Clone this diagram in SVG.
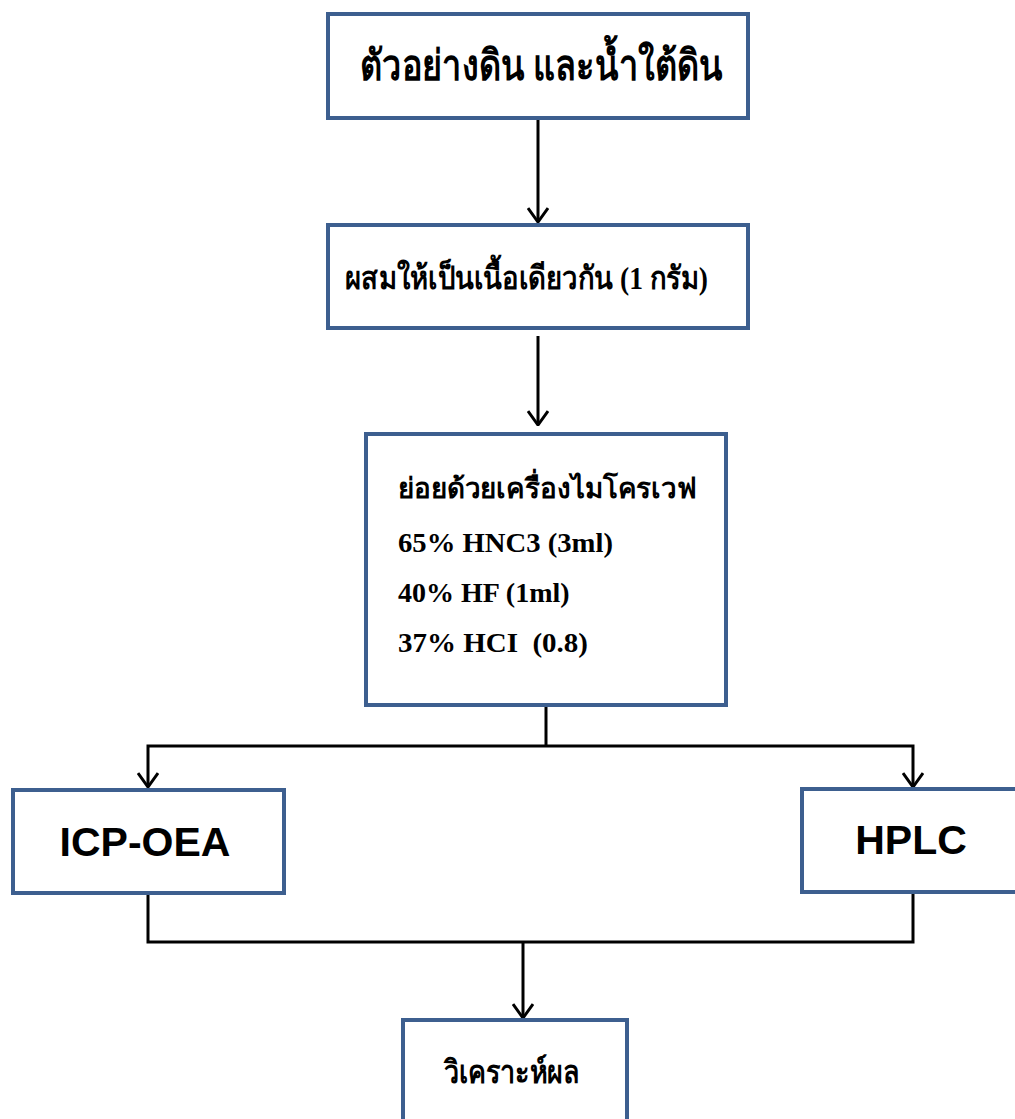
<svg xmlns="http://www.w3.org/2000/svg" width="1015" height="1119" viewBox="0 0 1015 1119">
  <defs>
    <!-- open V arrowhead, drawn along +x so orient="auto" follows the line -->
    <marker id="arrow" viewBox="0 0 16 22" refX="15" refY="11" markerWidth="16" markerHeight="22" markerUnits="userSpaceOnUse" orient="auto-start-reverse">
      <path d="M1 1 L15 11 L1 21" fill="none" stroke="#000" stroke-width="3" stroke-linejoin="miter"/>
    </marker>
    <style>
      .box { fill: #fff; stroke: #3d5f8f; stroke-width: 4; }
      .th { font-family: "Liberation Serif", "Noto Sans", serif; font-weight: bold; fill: #000; white-space: pre; }
      .sans { font-family: "Liberation Sans", Arial, sans-serif; font-weight: bold; fill: #000; }
      .wire { fill: none; stroke: #000; stroke-width: 3; }
    </style>
  </defs>
  <rect width="1015" height="1119" fill="#fff"/>

  <g id="connectors">
    <path class="wire" d="M538 118 V222" marker-end="url(#arrow)"/>
    <path class="wire" d="M538 336 V425" marker-end="url(#arrow)"/>
    <path class="wire" d="M546 705 V746"/>
    <path class="wire" d="M148 787 V746 H913 V787" marker-start="url(#arrow)" marker-end="url(#arrow)"/>
    <path class="wire" d="M148 893 V942 H913 V892"/>
    <path class="wire" d="M523 942 V1018" marker-end="url(#arrow)"/>
  </g>

  <g id="sample">
    <rect class="box" x="328" y="14" width="420" height="104"/>
    <text class="th" x="360" y="80" font-size="42" textLength="363" lengthAdjust="spacingAndGlyphs">ตัวอย่างดิน และน้ำใต้ดิน</text>
  </g>

  <g id="homogenize">
    <rect class="box" x="328" y="225" width="420" height="103"/>
    <text class="th" x="345" y="289" font-size="32" textLength="363" lengthAdjust="spacingAndGlyphs">ผสมให้เป็นเนื้อเดียวกัน (1 กรัม)</text>
  </g>

  <g id="digest">
    <rect class="box" x="366" y="434" width="360" height="271"/>
    <text class="th" x="398" y="498" font-size="28" textLength="299" lengthAdjust="spacingAndGlyphs">ย่อยด้วยเครื่องไมโครเวฟ</text>
    <text class="th" x="398" y="552" font-size="28" textLength="215" lengthAdjust="spacingAndGlyphs">65% HNC3 (3ml)</text>
    <text class="th" x="398" y="602" font-size="28">40% HF (1ml)</text>
    <text class="th" x="398" y="652" font-size="28" textLength="190" lengthAdjust="spacingAndGlyphs">37% HCI  (0.8)</text>
  </g>

  <g id="icp">
    <rect class="box" x="13" y="790" width="271" height="103"/>
    <text class="sans" x="145" y="856" font-size="41" text-anchor="middle">ICP-OEA</text>
  </g>

  <g id="hplc">
    <rect class="box" x="802" y="789" width="220" height="103"/>
    <text class="sans" x="911" y="854" font-size="41" text-anchor="middle">HPLC</text>
  </g>

  <g id="analysis">
    <rect class="box" x="403" y="1020" width="224" height="110"/>
    <text class="th" x="444" y="1083" font-size="32" textLength="136" lengthAdjust="spacingAndGlyphs">วิเคราะห์ผล</text>
  </g>
</svg>
